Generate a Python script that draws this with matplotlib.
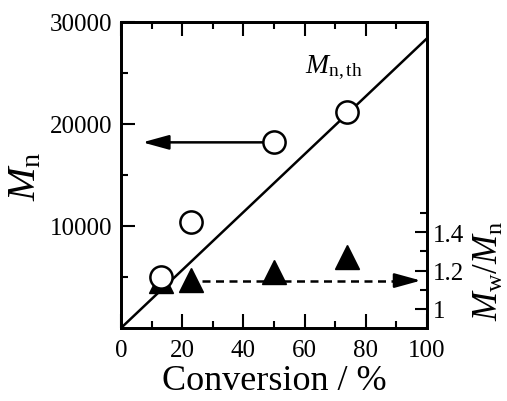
import numpy as np
import matplotlib
matplotlib.use("Agg")
from matplotlib import pyplot as plt
from matplotlib.ticker import MultipleLocator, FixedLocator

plt.rcParams['font.family'] = ['Liberation Serif', 'DejaVu Serif']
plt.rcParams['mathtext.fontset'] = 'custom'
plt.rcParams['mathtext.rm'] = 'Liberation Serif'
plt.rcParams['mathtext.it'] = 'Liberation Serif:italic'

#-------------------------------------------------------------
# data
conversion = [13, 23, 50, 74]          # %
mn_exp     = [5000, 10400, 18200, 21200]
mw_mn      = [1.145, 1.15, 1.195, 1.27]
conv_th    = [0, 100]
mn_th      = [0, 28400]

#-------------------------------------------------------------
fig = plt.figure(figsize=(5.07, 4.02), dpi=100)
ax = fig.add_axes([0.2387, 0.1816, 0.6036, 0.7612])
ax2 = ax.twinx()

ax.plot(conv_th, mn_th, color='black', lw=1.8, zorder=2)
ax.plot(conversion, mn_exp, 'o', ms=16, mfc='white', mec='black', mew=1.8, zorder=5)
ax2.plot(conversion, mw_mn, '^', ms=17, color='black', zorder=3)

ax.set_zorder(ax2.get_zorder() + 1)
ax.patch.set_visible(False)

# arrows pointing to the axes
ax.annotate('', xy=(7, mn_exp[2]), xytext=(48, mn_exp[2]),
            arrowprops=dict(arrowstyle='-|>,head_length=0.8,head_width=0.22',
                            mutation_scale=20, color='black', lw=1.8,
                            shrinkA=0, shrinkB=0), zorder=1)
pdi_level = 1.148
ax2.plot([26.5, 93], [pdi_level, pdi_level], color='black', lw=1.8,
         linestyle=(0, (3.2, 2.2)))
ax2.annotate('', xy=(98, pdi_level), xytext=(92, pdi_level),
             arrowprops=dict(arrowstyle='-|>,head_length=0.8,head_width=0.22',
                             mutation_scale=20, color='black', lw=1.8,
                             shrinkA=0, shrinkB=0))

ax.text(60, 25100, r'$M_\mathrm{n,th}$', fontsize=20, ha='left', va='baseline')

#-------------------------------------------------------------
ax.set_xlim(0, 100)
ax.set_ylim(0, 30000)
ax2.set_ylim(0.9, 2.5)

ax.xaxis.set_major_locator(MultipleLocator(20))
ax.xaxis.set_minor_locator(MultipleLocator(10))
ax.yaxis.set_major_locator(FixedLocator([10000, 20000, 30000]))
ax.yaxis.set_minor_locator(FixedLocator([5000, 15000, 25000]))
ax2.yaxis.set_major_locator(FixedLocator([1, 1.2, 1.4]))
ax2.yaxis.set_minor_locator(FixedLocator([1.1, 1.3, 1.5]))
ax2.set_yticklabels(['1', '1.2', '1.4'])

ax.tick_params(which='both', direction='in', top=True, right=False,
               labelsize=18, width=1.5)
ax.tick_params(axis='x', pad=8)
ax.tick_params(axis='y', pad=6)
ax.tick_params(which='major', length=10)
ax.tick_params(which='minor', length=5)
ax2.tick_params(which='both', direction='in', labelsize=18, width=1.5, pad=4)
ax2.tick_params(which='major', length=9)
ax2.tick_params(which='minor', length=5)

for a in (ax, ax2):
    for s in a.spines.values():
        s.set_linewidth(2)

ax.set_xlabel('Conversion / %', fontsize=26, labelpad=2)
ax.set_ylabel(r'$M_\mathrm{n}$', fontsize=29, labelpad=4)
ax2.set_ylabel(r'$M_\mathrm{w}/M_\mathrm{n}$', fontsize=25, rotation=90)
ax2.yaxis.set_label_coords(1.15, 0.19)

fig.savefig("out.png", dpi=100)
